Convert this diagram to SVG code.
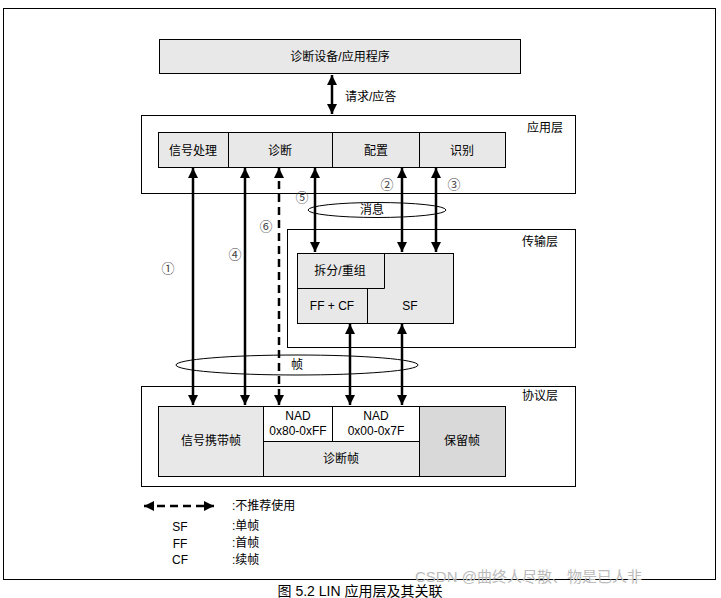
<svg xmlns="http://www.w3.org/2000/svg" width="721" height="598" viewBox="0 0 721 598">
<style>
text{font-family:"Liberation Sans","Noto Sans CJK SC",sans-serif;font-size:12px;fill:#000;text-anchor:middle}
.b{fill:#fff;stroke:#000;stroke-width:1}
.g{fill:#e8e8e8;stroke:#000;stroke-width:1}
.d{fill:#d9d9d9;stroke:#000;stroke-width:1}
.ln{stroke:#000;stroke-width:1}
.ar{stroke:#000;stroke-width:2.5;fill:none}
.ds{stroke:#000;stroke-width:2.5;fill:none;stroke-dasharray:8,5}
.n{font-size:13px;fill:#444}
.l{text-anchor:start}
</style>
<defs>
<marker id="ah" viewBox="0 0 10 10" refX="10" refY="5" markerWidth="4" markerHeight="5" markerUnits="strokeWidth" orient="auto-start-reverse"><path d="M0,0L10,5L0,10Z" fill="#000"/></marker>
</defs>
<rect x="0" y="0" width="721" height="598" fill="#fff"/>
<rect x="3.5" y="8.5" width="712" height="571" fill="none" stroke="#000"/>
<g id="top"><rect class="g" x="159.5" y="39.5" width="361" height="34"/><text x="340" y="61">诊断设备/应用程序</text></g>
<g id="app"><rect class="b" x="141.5" y="115.5" width="434" height="78"/><text x="545" y="132">应用层</text>
<rect class="g" x="158.5" y="132.5" width="347" height="35"/>
<line class="ln" x1="228.5" y1="132" x2="228.5" y2="167"/><line class="ln" x1="332.5" y1="132" x2="332.5" y2="167"/><line class="ln" x1="419.5" y1="132" x2="419.5" y2="167"/>
<text x="193" y="155">信号处理</text><text x="280" y="155">诊断</text><text x="376" y="155">配置</text><text x="462" y="155">识别</text></g>
<g id="transport"><rect class="b" x="287.5" y="229.5" width="288" height="118"/><text x="540" y="246">传输层</text>
<rect class="g" x="297.5" y="253.5" width="156" height="70"/>
<path class="ln" fill="none" d="M297.5,288.5H384.5V253.5M367.5,288.5V323.5"/>
<text x="340" y="275">拆分/重组</text><text x="332" y="310">FF + CF</text><text x="410" y="310">SF</text></g>
<g id="protocol"><rect class="b" x="141.5" y="386.5" width="434" height="100"/><text x="540" y="400">协议层</text>
<rect class="g" x="158.5" y="406.5" width="105" height="70"/>
<rect class="b" x="263.5" y="406.5" width="69" height="35"/><rect class="b" x="332.5" y="406.5" width="87" height="35"/>
<rect class="g" x="263.5" y="441.5" width="156" height="35"/><rect class="d" x="419.5" y="406.5" width="86" height="70"/>
<text x="211" y="445">信号携带帧</text><text x="298" y="420">NAD</text><text x="298" y="435">0x80-0xFF</text>
<text x="376" y="420">NAD</text><text x="376" y="435">0x00-0x7F</text><text x="341" y="463">诊断帧</text><text x="462" y="445">保留帧</text></g>
<g id="connectors">
<line class="ar" x1="332" y1="75" x2="332" y2="114" marker-start="url(#ah)" marker-end="url(#ah)"/>
<line class="ar" x1="193" y1="168" x2="193" y2="405" marker-start="url(#ah)" marker-end="url(#ah)"/>
<line class="ar" x1="245" y1="168" x2="245" y2="405" marker-start="url(#ah)" marker-end="url(#ah)"/>
<line class="ds" x1="279" y1="168" x2="279" y2="405" marker-start="url(#ah)" marker-end="url(#ah)"/>
<line class="ar" x1="315" y1="168" x2="315" y2="252" marker-start="url(#ah)" marker-end="url(#ah)"/>
<line class="ar" x1="402" y1="168" x2="402" y2="252" marker-start="url(#ah)" marker-end="url(#ah)"/>
<line class="ar" x1="436" y1="168" x2="436" y2="252" marker-start="url(#ah)" marker-end="url(#ah)"/>
<line class="ar" x1="350" y1="324" x2="350" y2="405" marker-start="url(#ah)" marker-end="url(#ah)"/>
<line class="ar" x1="402" y1="324" x2="402" y2="405" marker-start="url(#ah)" marker-end="url(#ah)"/>
</g>
<ellipse cx="377" cy="210" rx="69" ry="7.5" fill="none" stroke="#000"/><text x="372" y="214">消息</text>
<ellipse cx="297" cy="365" rx="121" ry="10" fill="none" stroke="#000"/><text x="297" y="369">帧</text>
<text x="345" y="101" class="l">请求/应答</text>
<text class="n" x="168" y="273">①</text><text class="n" x="387" y="189">②</text><text class="n" x="454" y="189">③</text>
<text class="n" x="235" y="259">④</text><text class="n" x="302" y="202">⑤</text><text class="n" x="266" y="231">⑥</text>
<line class="ds" x1="144" y1="506" x2="214" y2="506" marker-start="url(#ah)" marker-end="url(#ah)"/>
<text class="l" x="232" y="510">:不推荐使用</text>
<text x="180" y="531">SF</text><text class="l" x="232" y="530">:单帧</text>
<text x="180" y="548">FF</text><text class="l" x="232" y="547">:首帧</text>
<text x="180" y="564">CF</text><text class="l" x="232" y="564">:续帧</text>
<text x="360" y="596" style="font-size:14px">图 5.2 LIN 应用层及其关联</text>
<text class="l" x="415" y="582" style="font-size:15px;fill:#bbb">CSDN @曲终人尽散、物是已人非</text>
</svg>
